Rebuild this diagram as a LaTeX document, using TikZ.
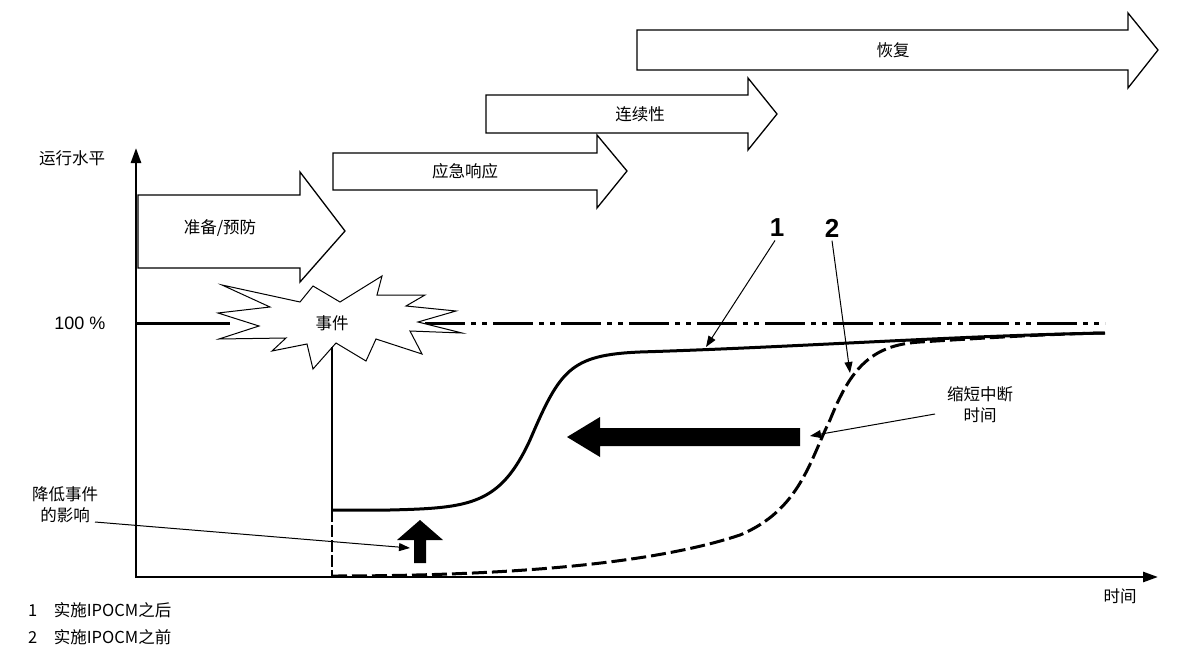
\documentclass[tikz,border=0pt]{standalone}
\usepackage{fontspec}
\setmainfont{Liberation Sans}
\newfontfamily\cjk{Noto Sans CJK SC}
\usetikzlibrary{arrows.meta}
\begin{document}
\begin{tikzpicture}[x=1pt,y=-1pt,
  txt/.style={font=\cjk\fontsize{16.5}{21}\selectfont,inner sep=0pt,align=center},
  blk/.style={draw=black,fill=white,line width=1.3pt,line join=miter},
  lead/.style={line width=1pt,-{Triangle[length=11pt,width=8pt]}}]
\useasboundingbox (0,0) rectangle (1178,661);
% axes
\draw[line width=2.6pt,-{Triangle[length=15pt,width=10pt]}] (136,578) -- (136,148);
\draw[line width=2.6pt,-{Triangle[length=15pt,width=10pt]}] (135,577) -- (1158,577);
\node[txt] (yl) at (72,158) {运行水平};
\node[txt] (xl) at (1120,596) {时间};
\node[font=\fontsize{18}{20}\selectfont] (p100) at (80,323) {100 \%};
% 100 line
\draw[line width=3pt] (136,323) -- (230,323);
\draw[line width=3pt,dash pattern=on 40pt off 6pt on 5pt off 6pt on 5pt off 6pt] (425,323) -- (1105,323);
% block arrows
\draw[blk] (138,195) -- (300,195) -- (300,172) -- (345,231) -- (300,282) -- (300,268) -- (138,268) -- cycle;
\node[txt] (a1) at (220,228) {准备/预防};
\draw[blk] (333,153) -- (597,153) -- (597,135) -- (627,171) -- (597,208) -- (597,190) -- (333,190) -- cycle;
\node[txt] (a2) at (465,171) {应急响应};
\draw[blk] (486,95) -- (748,95) -- (748,78) -- (777,114) -- (748,150) -- (748,133) -- (486,133) -- cycle;
\node[txt] (a3) at (640,114) {连续性};
\draw[blk] (637,30) -- (1128,30) -- (1128,13) -- (1158,50) -- (1128,88) -- (1128,70) -- (637,70) -- cycle;
\node[txt] (a4) at (893,50) {恢复};
% star
\draw[line width=1pt,fill=white,line join=miter] (218,313) -- (270,307) -- (222,285) -- (300,302) -- (313,286)
 -- (340,302) -- (382,276) -- (377,295) -- (425,295) -- (406,306) -- (456,311) -- (418,322)
 -- (462,333) -- (410,331) -- (422,354) -- (376,339) -- (366,361) -- (336,343) -- (313,369)
 -- (307,344) -- (272,351) -- (286,338) -- (219,339) -- (259,326) -- cycle;
\node[txt] (ev) at (332,323) {事件};
% vertical event line
\draw[line width=2.6pt] (332,347) -- (332,510);
\draw[line width=2.6pt,dash pattern=on 12pt off 3pt] (332,510) -- (332,577);
% curve 1
\draw[line width=3pt] (332,510) -- (390,510) .. controls (470,508) and (500,505) .. (530,440)
  .. controls (560,370) and (570,355) .. (640,352) .. controls (800,347) and (950,336) .. (1105,333);
% curve 2
\draw[line width=3pt,dash pattern=on 15pt off 5pt] (332,576) .. controls (500,576) and (650,565) .. (740,535)
  .. controls (800,510) and (810,460) .. (830,420) .. controls (850,370) and (870,345) .. (920,342)
  .. controls (1000,337) and (1050,334) .. (1105,333);
% big arrows
\fill (800,428) -- (600,428) -- (600,417) -- (567,437) -- (600,457) -- (600,446) -- (800,446) -- cycle;
\fill (414,563) -- (414,540) -- (397,540) -- (420,520) -- (443,540) -- (426,540) -- (426,563) -- cycle;
% labels 1, 2
\node[font=\bfseries\fontsize{26}{28}\selectfont] (n1) at (777,228) {1};
\node[font=\bfseries\fontsize{26}{28}\selectfont] (n2) at (832,228) {2};
\coordinate (t1) at (706,347);
\coordinate (t2) at (850,373);
\draw[lead] (n1.south) ++(-2,0) -- (t1);
\draw[lead] (n2.south) -- (t2);
\node[txt] (short) at (980,405) {缩短中断\\时间};
\coordinate (t3) at (810,436);
\draw[lead] (935,414) -- (t3);
\node[txt] (red) at (65,505) {降低事件\\的影响};
\coordinate (t4) at (410,548);
\draw[lead] (95,522) -- (t4);
% legend
\node[txt,anchor=west] (l1) at (28,610) {1\quad 实施IPOCM之后};
\node[txt,anchor=west] (l2) at (28,637) {2\quad 实施IPOCM之前};
\end{tikzpicture}
\end{document}
